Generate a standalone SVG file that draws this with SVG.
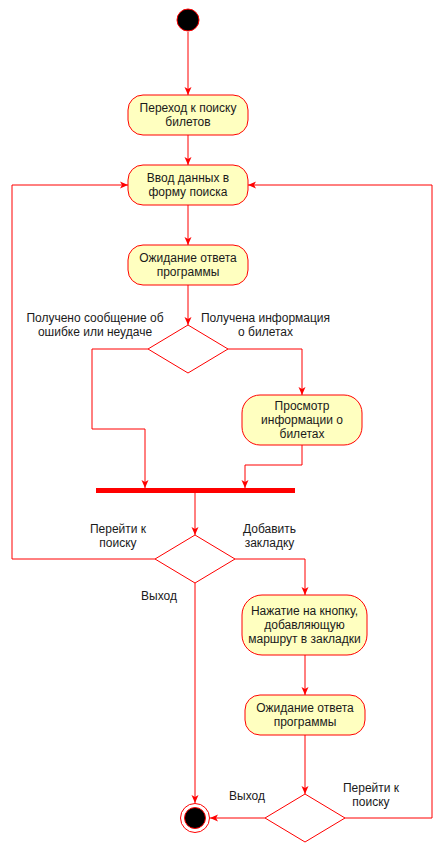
<svg xmlns="http://www.w3.org/2000/svg" width="447" height="849" viewBox="0 0 447 849">
<style>
.node{fill:#FFFFC0;stroke:#FF0000;stroke-width:1}
.dia{fill:#FFFFFF;stroke:#FF0000;stroke-width:1}
.edge{fill:none;stroke:#FF0000;stroke-width:1}
text{font-family:"Liberation Sans",Arial,sans-serif;font-size:12px;fill:#1a1a1a;text-anchor:middle}
</style>
<defs>
<marker id="arr" markerUnits="userSpaceOnUse" markerWidth="10" markerHeight="10" refX="8" refY="4" orient="auto">
<path d="M0,0.5 L8,4 L0,7.5 L2,4 z" fill="#FF0000"/>
</marker>
</defs>
<rect width="447" height="849" fill="#FFFFFF"/>
<g id="connectors">
<path class="edge" d="M188,32 L188,95" marker-end="url(#arr)"/>
<path class="edge" d="M188,135 L188,165" marker-end="url(#arr)"/>
<path class="edge" d="M188,205 L188,245" marker-end="url(#arr)"/>
<path class="edge" d="M188,285 L188,325" marker-end="url(#arr)"/>
<path class="edge" d="M148,349 L92,349 L92,429 L145,429 L145,488" marker-end="url(#arr)"/>
<path class="edge" d="M228,349 L302,349 L302,395" marker-end="url(#arr)"/>
<path class="edge" d="M302,445 L302,465 L245,465 L245,488" marker-end="url(#arr)"/>
<path class="edge" d="M195,493 L195,535" marker-end="url(#arr)"/>
<path class="edge" d="M155,559 L12,559 L12,185 L128,185" marker-end="url(#arr)"/>
<path class="edge" d="M235,559 L305,559 L305,595" marker-end="url(#arr)"/>
<path class="edge" d="M195,583 L195,803" marker-end="url(#arr)"/>
<path class="edge" d="M305,655 L305,695" marker-end="url(#arr)"/>
<path class="edge" d="M305,735 L305,794" marker-end="url(#arr)"/>
<path class="edge" d="M265,818 L210,818" marker-end="url(#arr)"/>
<path class="edge" d="M345,818 L432,818 L432,185 L248,185" marker-end="url(#arr)"/>
</g>
<g id="start">
<circle cx="188" cy="20" r="11" fill="#000000" stroke="#FF0000" stroke-width="1"/>
</g>
<g id="n1">
<rect class="node" x="128" y="95" width="120" height="40" rx="15" ry="15"/>
<text x="188" y="112">Переход к поиску</text>
<text x="188" y="126">билетов</text>
</g>
<g id="n2">
<rect class="node" x="128" y="165" width="120" height="40" rx="15" ry="15"/>
<text x="188" y="182">Ввод данных в</text>
<text x="188" y="196">форму поиска</text>
</g>
<g id="n3">
<rect class="node" x="128" y="245" width="120" height="40" rx="15" ry="15"/>
<text x="188" y="262">Ожидание ответа</text>
<text x="188" y="276">программы</text>
</g>
<g id="d1">
<path class="dia" d="M188,325 L228,349 L188,373 L148,349 Z"/>
</g>
<g id="l1">
<text x="95" y="322">Получено сообщение об</text>
<text x="95" y="336">ошибке или неудаче</text>
</g>
<g id="l2">
<text x="265.5" y="322">Получена информация</text>
<text x="265.5" y="336">о билетах</text>
</g>
<g id="n4">
<rect class="node" x="242" y="395" width="120" height="50" rx="18" ry="18"/>
<text x="302" y="410">Просмотр</text>
<text x="302" y="424">информации о</text>
<text x="302" y="438">билетах</text>
</g>
<g id="bar">
<rect x="96" y="488" width="199" height="5" fill="#FF0000"/>
</g>
<g id="d2">
<path class="dia" d="M195,535 L235,559 L195,583 L155,559 Z"/>
</g>
<g id="l3">
<text x="118" y="533">Перейти к</text>
<text x="118" y="547">поиску</text>
</g>
<g id="l4">
<text x="269.5" y="533">Добавить</text>
<text x="269.5" y="547">закладку</text>
</g>
<g id="l5">
<text x="159" y="600">Выход</text>
</g>
<g id="n5">
<rect class="node" x="242" y="595" width="125" height="60" rx="20" ry="20"/>
<text x="304.5" y="615">Нажатие на кнопку,</text>
<text x="304.5" y="629">добавляющую</text>
<text x="304.5" y="643">маршрут в закладки</text>
</g>
<g id="n6">
<rect class="node" x="245" y="695" width="120" height="40" rx="15" ry="15"/>
<text x="305" y="712">Ожидание ответа</text>
<text x="305" y="726">программы</text>
</g>
<g id="d3">
<path class="dia" d="M305,794 L345,818 L305,842 L265,818 Z"/>
</g>
<g id="l6">
<text x="247" y="800">Выход</text>
</g>
<g id="l7">
<text x="371" y="792">Перейти к</text>
<text x="371" y="806">поиску</text>
</g>
<g id="end">
<circle cx="195" cy="818" r="14.5" fill="#FFFFFF" stroke="#FF0000" stroke-width="1"/>
<circle cx="195" cy="818" r="10.5" fill="#000000" stroke="#FF0000" stroke-width="1"/>
</g>
</svg>
